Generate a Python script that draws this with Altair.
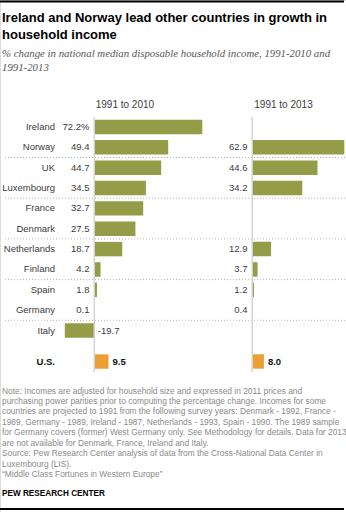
import altair as alt
import pandas as pd

# ---------------- data ----------------
countries = ["Ireland", "Norway", "UK", "Luxembourg", "France", "Denmark",
             "Netherlands", "Finland", "Spain", "Germany", "Italy"]
chg_1991_2010 = [72.2, 49.4, 44.7, 34.5, 32.7, 27.5, 18.7, 4.2, 1.8, 0.1, -19.7]
chg_1991_2013 = [None, 62.9, 44.6, 34.2, None, None, 12.9, 3.7, 1.2, 0.4, None]
us_label = "U.S."
us_1991_2010 = 9.5
us_1991_2013 = 8.0
separators_above = ["UK", "France", "Netherlands", "Spain", "Italy"]
period_labels = ["1991 to 2010", "1991 to 2013"]

title_lines = ["Ireland and Norway lead other countries in growth in",
               "household income"]
subtitle_lines = ["% change in national median disposable household income, 1991-2010 and",
                  "1991-2013"]
note_lines = [
    "Note: Incomes are adjusted for household size and expressed in 2011 prices and",
    "purchasing power parities prior to computing the percentage change. Incomes for some",
    "countries are projected to 1991 from the following survey years: Denmark - 1992, France -",
    "1989, Germany - 1989, Ireland - 1987, Netherlands - 1993, Spain - 1990. The 1989 sample",
    "for Germany covers (former) West Germany only. See Methodology for details. Data for 2013",
    "are not available for Denmark, France, Ireland and Italy.",
    "Source: Pew Research Center analysis of data from the Cross-National Data Center in",
    "Luxembourg (LIS).",
    "\u201cMiddle Class Fortunes in Western Europe\u201d",
]
source_label = "PEW RESEARCH CENTER"

# ---------------- frames ----------------
df1 = pd.DataFrame({"country": countries, "v": chg_1991_2010})
df1["label"] = [f"{v:.1f}" + ("%" if i == 0 else "") for i, v in enumerate(chg_1991_2010)]
df2 = pd.DataFrame({"country": countries, "v": chg_1991_2013}).dropna()
df2["label"] = [f"{v:.1f}" for v in df2["v"]]
dfus = pd.DataFrame({"country": [us_label], "v1": [us_1991_2010], "v2": [us_1991_2013]})
dfus["l1"] = [f"{us_1991_2010:.1f}"]
dfus["l2"] = [f"{us_1991_2013:.1f}"]
dfsep = pd.DataFrame({"country": separators_above})
one = pd.DataFrame({"k": [0]})

# ---------------- styles ----------------
OLIVE = "#949c48"
ORANGE = "#eca033"
TXT = "#3c3c3c"
FONT = "Liberation Sans"
US_SHIFT = -9.7

ydomain = countries + [" ", us_label]
yscale = alt.Scale(domain=ydomain, range=[116.8, 381.4], paddingInner=0.29, paddingOuter=0.145)
x1 = alt.Scale(domain=[-19.7, 72.2], range=[64.8, 202.3])
x2 = alt.Scale(domain=[0, 62.9], range=[252.2, 344.3])


def Y(**kw):
    return alt.Y("country:N", scale=yscale, axis=None, **kw)


def text_line(s, x, y, **style):
    return alt.Chart(one).mark_text(align="left", **style).encode(
        x=alt.value(x), y=alt.value(y), text=alt.value(s))


# bars
bars1 = alt.Chart(df1).mark_bar(color=OLIVE).encode(
    y=Y(), x=alt.X("v:Q", scale=x1, axis=None))
bars2 = alt.Chart(df2).mark_bar(color=OLIVE).encode(
    y=Y(), x=alt.X("v:Q", scale=x2, axis=None))
usbar1 = alt.Chart(dfus).mark_bar(color=ORANGE, yOffset=US_SHIFT).encode(
    y=Y(), x=alt.X("v1:Q", scale=x1, axis=None))
usbar2 = alt.Chart(dfus).mark_bar(color=ORANGE, yOffset=US_SHIFT).encode(
    y=Y(), x=alt.X("v2:Q", scale=x2, axis=None))

# zero lines
zero1 = alt.Chart(one).mark_rule(color="#d4d4d4", strokeWidth=1.5).encode(
    x=alt.XDatum(0, scale=x1, axis=None), y=alt.value(117), y2=alt.value(372))
zero2 = alt.Chart(one).mark_rule(color="#d4d4d4", strokeWidth=1.5).encode(
    x=alt.XDatum(0, scale=x2, axis=None), y=alt.value(117), y2=alt.value(372))

# dotted separators
seps = alt.Chart(dfsep).mark_rule(color="#b5b5b5", strokeDash=[1, 2], strokeWidth=1, yOffset=-2.95).encode(
    y=Y(bandPosition=0), x=alt.value(5), x2=alt.value(346))

# labels
lab_country = alt.Chart(df1).mark_text(align="right", baseline="middle", font=FONT, fontSize=9.5, color=TXT).encode(
    y=Y(), x=alt.value(55), text="country:N")
lab_us = alt.Chart(dfus).mark_text(align="right", baseline="middle", font=FONT, fontSize=9.5, fontWeight="bold",
                                    color="#111", yOffset=US_SHIFT).encode(
    y=Y(), x=alt.value(55), text="country:N")
val1_pos = alt.Chart(df1).transform_filter("datum.v >= 0").mark_text(
    align="right", baseline="middle", font=FONT, fontSize=9.5, color=TXT).encode(
    y=Y(), x=alt.value(89.5), text="label:N")
val1_neg = alt.Chart(df1).transform_filter("datum.v < 0").mark_text(
    align="left", baseline="middle", font=FONT, fontSize=9.5, color=TXT, dx=3.5).encode(
    y=Y(), x=alt.XDatum(0, scale=x1, axis=None), text="label:N")
val2 = alt.Chart(df2).mark_text(align="right", baseline="middle", font=FONT, fontSize=9.5, color=TXT).encode(
    y=Y(), x=alt.value(247.5), text="label:N")
usval1 = alt.Chart(dfus).mark_text(align="left", baseline="middle", font=FONT, fontSize=9.5, fontWeight="bold",
                                    color="#111", dx=4, yOffset=US_SHIFT).encode(
    y=Y(), x=alt.X("v1:Q", scale=x1, axis=None), text="l1:N")
usval2 = alt.Chart(dfus).mark_text(align="left", baseline="middle", font=FONT, fontSize=9.5, fontWeight="bold",
                                    color="#111", dx=4, yOffset=US_SHIFT).encode(
    y=Y(), x=alt.X("v2:Q", scale=x2, axis=None), text="l2:N")

# headers
hdr_style = dict(baseline="middle", font=FONT, fontSize=10, color=TXT)
hdr1 = text_line(period_labels[0], 95.7, 105, **hdr_style)
hdr2 = text_line(period_labels[1], 254.3, 105, **hdr_style)

# title block
top_rule = alt.Chart(one).mark_rule(color="#000", strokeWidth=2).encode(
    x=alt.value(0), x2=alt.value(344), y=alt.value(1.5))
bottom_rule = alt.Chart(one).mark_rule(color="#000", strokeWidth=2).encode(
    x=alt.value(0), x2=alt.value(344), y=alt.value(509))

title_style = dict(baseline="alphabetic", font=FONT, fontSize=13, fontWeight="bold", color="#000")
sub_style = dict(baseline="alphabetic", font="Liberation Serif", fontSize=10.8, fontStyle="italic", color="#555")
note_style = dict(baseline="middle", font=FONT, fontSize=8.4, color="#8a8a8a")

title_layers = [text_line(s, 2, 22 + 17 * i, **title_style) for i, s in enumerate(title_lines)]
sub_layers = [text_line(s, 2, 56.7 + 14.3 * i, **sub_style) for i, s in enumerate(subtitle_lines)]
note_layers = [text_line(s, 2, 390.5 + 10.44 * i, **note_style) for i, s in enumerate(note_lines)]
source = text_line(source_label, 2, 494.3, baseline="middle", font=FONT, fontSize=8.2,
                   fontWeight="bold", color="#000")

chart = alt.layer(
    top_rule, *title_layers, *sub_layers, hdr1, hdr2,
    seps, bars1, bars2, usbar1, usbar2, zero1, zero2,
    lab_country, lab_us, val1_pos, val1_neg, val2, usval1, usval2,
    *note_layers, source, bottom_rule,
).resolve_scale(x="independent").properties(
    width=346, height=512, autosize=alt.AutoSizeParams(type="none"), padding=0,
).configure_view(stroke=None).configure(background="white")

chart.save("out.html", embed_options={"renderer": "svg", "actions": False})
